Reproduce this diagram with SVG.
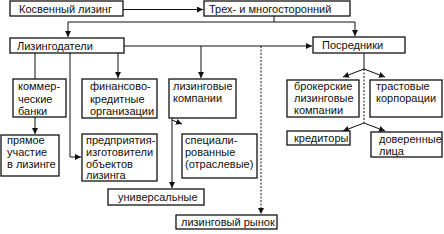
<svg xmlns="http://www.w3.org/2000/svg" width="444" height="234" viewBox="0 0 444 234">
<style>
.b{fill:#fff;stroke:#111;stroke-width:1.3}
.t{font-family:"Liberation Sans",Arial,sans-serif;font-size:11px;fill:#111}
.l{fill:none;stroke:#111;stroke-width:1}
.d{fill:none;stroke:#111;stroke-width:1;stroke-dasharray:2 1.5}
</style>
<defs>
<marker id="a" viewBox="0 0 8 8" refX="8" refY="4" markerWidth="6" markerHeight="6" orient="auto" markerUnits="userSpaceOnUse">
<path d="M0,0 L8,4 L0,8 Z" fill="#111"/>
</marker>
</defs>
<g id="connectors">
<path class="l" d="M123,9.5 H203" marker-end="url(#a)"/>
<path class="l" d="M274,16 V22 H68 V37" marker-end="url(#a)"/>
<path class="l" d="M274,22 H355 V36" marker-end="url(#a)"/>
<path class="l" d="M124,46 H312" marker-end="url(#a)"/>
<path class="l" d="M201,46 V78" marker-end="url(#a)"/>
<path class="d" d="M261,46 V214" marker-end="url(#a)"/>
<path class="l" d="M35,53 V79"/>
<path class="l" d="M118,53 V78" marker-end="url(#a)"/>
<path class="l" d="M70,53 V157 H81" marker-end="url(#a)"/>
<path class="l" d="M35,117 V134" marker-end="url(#a)"/>
<path class="l" d="M172,118 V188" marker-end="url(#a)"/>
<path class="l" d="M172,120 L182,124" marker-end="url(#a)"/>
<path class="l" d="M364,53 V69"/>
<path class="l" d="M364,69 L343,77" marker-end="url(#a)"/>
<path class="l" d="M364,69 L385,77" marker-end="url(#a)"/>
<path class="d" d="M364,69 V123"/>
<path class="l" d="M364,123 L343,131" marker-end="url(#a)"/>
<path class="l" d="M364,123 L385,131" marker-end="url(#a)"/>
</g>
<g id="n-kosv"><rect class="b" x="10" y="1" width="113" height="15"/><text class="t" x="19" y="13">Косвенный лизинг</text></g>
<g id="n-treh"><rect class="b" x="204" y="1" width="146" height="15"/><text class="t" x="209" y="13">Трех- и многосторонний</text></g>
<g id="n-lizdat"><rect class="b" x="10" y="38" width="114" height="15"/><text class="t" x="17" y="50">Лизингодатели</text></g>
<g id="n-posr"><rect class="b" x="313" y="37" width="92" height="16"/><text class="t" x="322" y="49">Посредники</text></g>
<g id="n-banki"><rect class="b" x="13" y="79" width="53" height="38"/><text class="t" x="18" y="90">коммер-</text><text class="t" x="18" y="103">ческие</text><text class="t" x="18" y="115">банки</text></g>
<g id="n-fin"><rect class="b" x="82" y="79" width="75" height="39"/><text class="t" x="90" y="90">финансово-</text><text class="t" x="90" y="103">кредитные</text><text class="t" x="90" y="115">организации</text></g>
<g id="n-lizkomp"><rect class="b" x="169" y="79" width="67" height="39"/><text class="t" x="173" y="90">лизинговые</text><text class="t" x="173" y="102">компании</text></g>
<g id="n-pryamoe"><rect class="b" x="1" y="135" width="58" height="41"/><text class="t" x="7" y="144">прямое</text><text class="t" x="7" y="156">участие</text><text class="t" x="7" y="168">в лизинге</text></g>
<g id="n-predpr"><rect class="b" x="82" y="134" width="75" height="47"/><text class="t" x="86" y="144">предприятия-</text><text class="t" x="86" y="156">изготовители</text><text class="t" x="86" y="168">объектов</text><text class="t" x="86" y="179">лизинга</text></g>
<g id="n-spec"><rect class="b" x="182" y="134" width="75" height="44"/><text class="t" x="185" y="144">специали-</text><text class="t" x="185" y="156">рованные</text><text class="t" x="185" y="168">(отраслевые)</text></g>
<g id="n-univ"><rect class="b" x="108" y="189" width="96" height="16"/><text class="t" x="118" y="201">универсальные</text></g>
<g id="n-rynok"><rect class="b" x="176" y="215" width="101" height="14"/><text class="t" x="181" y="226">лизинговый рынок</text></g>
<g id="n-broker"><rect class="b" x="287" y="80" width="72" height="37"/><text class="t" x="294" y="90">брокерские</text><text class="t" x="294" y="102">лизинговые</text><text class="t" x="294" y="114">компании</text></g>
<g id="n-trast"><rect class="b" x="370" y="80" width="72" height="37"/><text class="t" x="376" y="90">трастовые</text><text class="t" x="376" y="102">корпорации</text></g>
<g id="n-kred"><rect class="b" x="287" y="131" width="63" height="14"/><text class="t" x="294" y="142">кредиторы</text></g>
<g id="n-dover"><rect class="b" x="371" y="132" width="71" height="25"/><text class="t" x="379" y="143">доверенные</text><text class="t" x="379" y="155">лица</text></g>
</svg>
